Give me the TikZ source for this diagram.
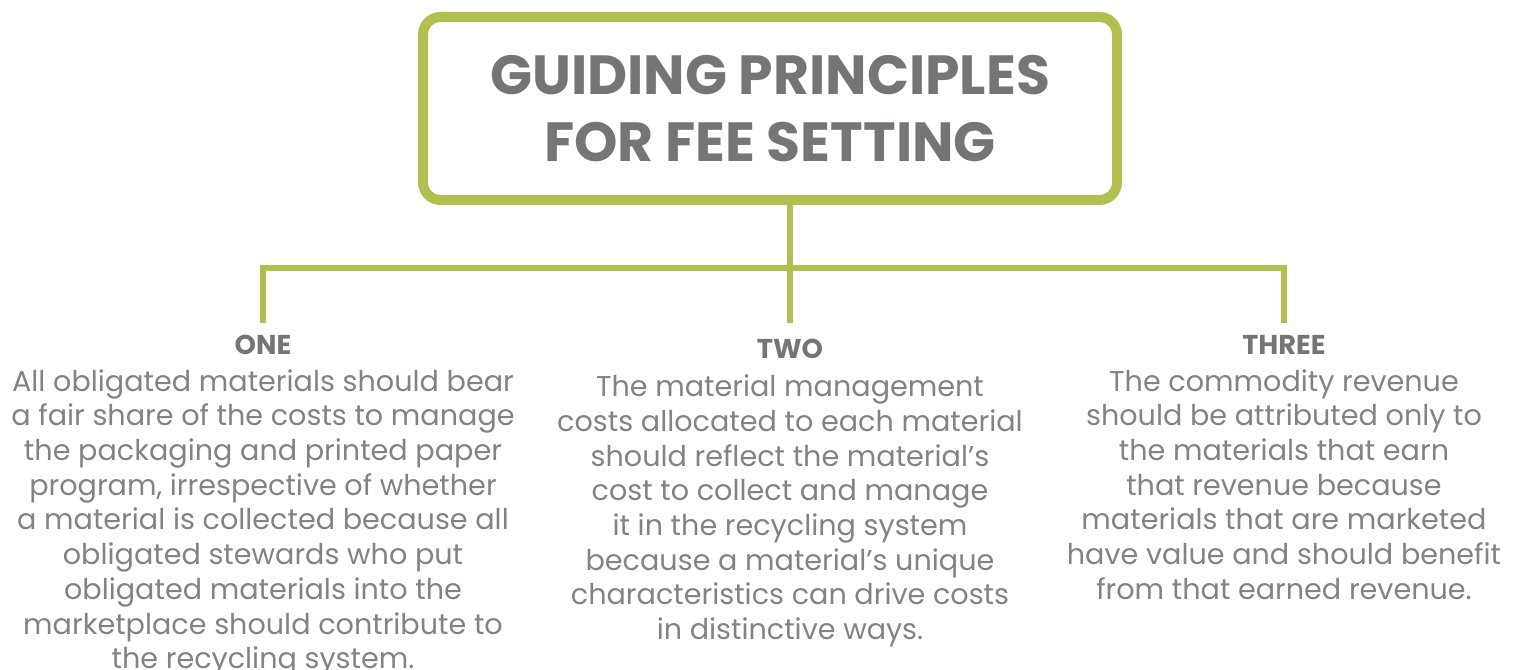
\documentclass[tikz,border=0pt]{standalone}
\usepackage{fontspec}
\setmainfont{Poppins}
\usepackage{xcolor}
\usepackage{tikz}
\usetikzlibrary{positioning, calc}
\definecolor{leaf}{HTML}{B2BE50}
\definecolor{ink}{HTML}{747577}
\definecolor{softink}{HTML}{828385}
\tikzstyle{link} = [draw=leaf, line width=0.12cm]
\tikzstyle{heading} = [anchor=north, inner sep=0, outer ysep=0.28cm, text height=0.36cm, text depth=0, text=ink, font=\bfseries\fontsize{15.5}{17}\selectfont]
\tikzstyle{body} = [inner sep=0, align=center, text=softink, font=\fontsize{16.3}{19.75}\selectfont]

\begin{document}
\begin{tikzpicture}
    \useasboundingbox (0,0) rectangle (30.36,-13.4);
    \node[draw=leaf, line width=0.2cm, rounded corners=0.35cm, minimum width=13.88cm, minimum height=3.66cm, align=center, text=ink, font=\bfseries\fontsize{31.4}{38}\selectfont] (title) at (15.4,-2.17) {GUIDING PRINCIPLES\\FOR FEE SETTING};
    \coordinate (bar) at (15.8,-5.36);
    \node[heading] (one) at (5.26,-6.46) {ONE};
    \node[heading, outer ysep=0.35cm] (two) at (15.8,-6.46) {TWO};
    \node[heading] (three) at (25.68,-6.46) {THREE};
    \node[body, below=0cm of one] (onetext) {All obligated materials should bear\\a fair share of the costs to manage\\the packaging and printed paper\\program, irrespective of whether\\a material is collected because all\\obligated stewards who put\\obligated materials into the\\marketplace should contribute to\\the recycling system.};
    \node[body, below=-0.03cm of two] (twotext) {The material management\\costs allocated to each material\\should reflect the material’s\\cost to collect and manage\\it in the recycling system\\because a material’s unique\\characteristics can drive costs\\in distinctive ways.};
    \node[body, below=0cm of three] (threetext) {The commodity revenue\\should be attributed only to\\the materials that earn\\that revenue because\\materials that are marketed\\have value and should benefit\\from that earned revenue.};
    \draw[link] (title.south -| bar) -- (two.north);
    \draw[link] (one.north) |- (bar) -| (three.north);
\end{tikzpicture}
\end{document}
